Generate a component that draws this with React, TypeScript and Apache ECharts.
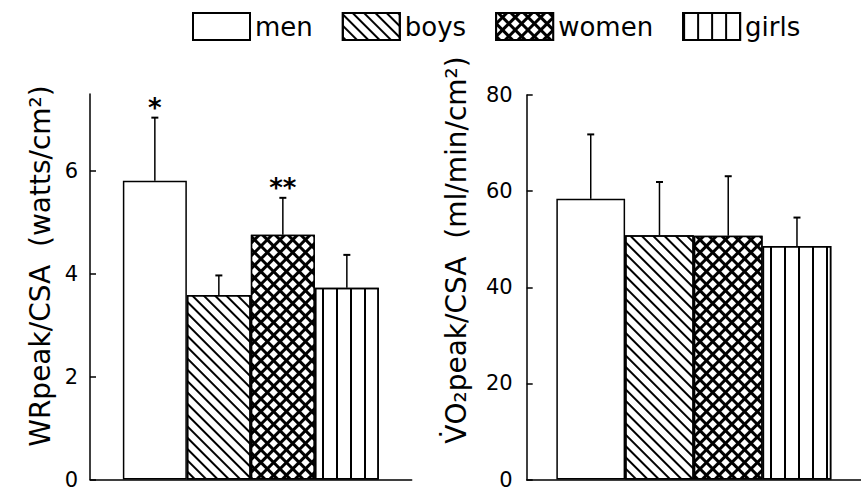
import React, { useEffect, useRef } from "react";
import * as echarts from "echarts";

const categories = ["men", "boys", "women", "girls"];
const wrMean = [5.81, 3.59, 4.76, 3.73];
const wrUpper = [7.04, 3.97, 5.48, 4.37];
const wrStars = ["*", "", "**", ""];
const vo2Mean = [58.4, 50.8, 50.7, 48.6];
const vo2Upper = [71.8, 61.9, 63.1, 54.5];
const vo2Stars = ["", "", "", ""];
const wrTicks = [0, 2, 4, 6];
const vo2Ticks = [0, 20, 40, 60, 80];
const wrTitle = "WRpeak/CSA  (watts/cm²)";
const vo2Title = "V̇O₂peak/CSA  (ml/min/cm²)";

const FONT = '"DejaVu Sans", sans-serif';
const BW_LEFT = 64;
const BW_RIGHT = 68.75;

const styles = [
  { color: "#fff" },
  {
    color: "#fff",
    decal: {
      symbol: "rect",
      color: "#000",
      dashArrayX: [1, 0],
      dashArrayY: [1.5, 6],
      rotation: Math.PI / 4,
      symbolSize: 1,
    },
  },
  {
    color: "#000",
    decal: {
      symbol: "rect",
      color: "#fff",
      dashArrayX: [5.6, 2.2],
      dashArrayY: [5.6, 2.2],
      rotation: Math.PI / 4,
      symbolSize: 1,
    },
  },
  {
    color: "#fff",
    decal: {
      symbol: "rect",
      color: "#000",
      dashArrayX: [1.3, 11.5],
      dashArrayY: [1, 0],
      rotation: 0,
      symbolSize: 1,
    },
  },
];

function errSeries(idx: number, means: number[], upper: number[], stars: string[], bw: number) {
  return {
    type: "custom",
    xAxisIndex: idx,
    yAxisIndex: idx,
    z: 5,
    clip: false,
    silent: true,
    data: means.map((m, i) => [0, m, upper[i]]),
    encode: { x: 0, y: [1, 2] },
    renderItem: (params: any, api: any) => {
      const i = params.dataIndex;
      const base = api.coord([0, api.value(1)]);
      const top = api.coord([0, api.value(2)]);
      const x = base[0] + (i - 1.5) * bw;
      const children: any[] = [
        { type: "line", shape: { x1: x, y1: base[1], x2: x, y2: top[1] }, style: { stroke: "#000", lineWidth: 1.5 } },
        { type: "line", shape: { x1: x - 3.5, y1: top[1], x2: x + 3.5, y2: top[1] }, style: { stroke: "#000", lineWidth: 2 } },
      ];
      if (stars[i]) {
        children.push({
          type: "text",
          x,
          y: top[1] - 10,
          style: { text: stars[i], font: 'bold 26px "DejaVu Sans"', fill: "#000", align: "center", verticalAlign: "middle" },
        });
      }
      return { type: "group", children };
    },
  };
}

function barSeries(idx: number, means: number[], bw: number) {
  return categories.map((name, i) => ({
    type: "bar",
    name,
    xAxisIndex: idx,
    yAxisIndex: idx,
    data: [means[i]],
    barWidth: bw,
    barGap: "0%",
    itemStyle: { ...styles[i], borderColor: "#000", borderWidth: 1.5 },
  }));
}

const axisLineStyle = { color: "#000", width: 1.5 };

function yAxis(idx: number, max: number, ticks: number[], margin: number) {
  return {
    type: "value",
    gridIndex: idx,
    min: 0,
    max,
    axisLine: { show: true, lineStyle: axisLineStyle },
    axisTick: { show: true, inside: true, length: 6, customValues: ticks, lineStyle: axisLineStyle },
    axisLabel: { customValues: ticks, fontSize: 21, fontFamily: FONT, color: "#000", margin },
    splitLine: { show: false },
  };
}

function xAxis(idx: number) {
  return {
    type: "category",
    gridIndex: idx,
    data: [""],
    axisLine: { show: true, lineStyle: axisLineStyle },
    axisTick: { show: false },
    axisLabel: { show: false },
  };
}

export default function App() {
  const ref = useRef<HTMLDivElement>(null);
  useEffect(() => {
    if (!ref.current) return;
    const chart = echarts.init(ref.current, null, { renderer: "svg" });
    chart.setOption({
      animation: false,
      backgroundColor: "#fff",
      legend: {
        data: categories,
        left: 192,
        top: 12,
        padding: 0,
        icon: "rect",
        itemWidth: 57,
        itemHeight: 27,
        itemGap: 29,
        selectedMode: false,
        textStyle: { fontSize: 26, fontFamily: FONT, color: "#000" },
      },
      grid: [
        { left: 90, top: 94, right: 449.3, bottom: 6, containLabel: false },
        { left: 526.7, top: 95, right: -7, bottom: 6.7, containLabel: false },
      ],
      xAxis: [xAxis(0), xAxis(1)],
      yAxis: [yAxis(0, 7.5, wrTicks, 12), yAxis(1, 80, vo2Ticks, 14)],
      graphic: [
        {
          type: "text",
          x: 40,
          y: 266,
          rotation: Math.PI / 2,
          style: { text: wrTitle, font: '28px "DejaVu Sans"', fill: "#000", align: "center", verticalAlign: "middle" },
        },
        {
          type: "text",
          x: 456,
          y: 250,
          rotation: Math.PI / 2,
          style: { text: vo2Title, font: '28px "DejaVu Sans"', fill: "#000", align: "center", verticalAlign: "middle" },
        },
      ],
      series: [
        ...barSeries(0, wrMean, BW_LEFT),
        ...barSeries(1, vo2Mean, BW_RIGHT),
        errSeries(0, wrMean, wrUpper, wrStars, BW_LEFT),
        errSeries(1, vo2Mean, vo2Upper, vo2Stars, BW_RIGHT),
      ],
    });
    return () => chart.dispose();
  }, []);
  return <div ref={ref} style={{ position: "fixed", left: 0, top: 0, width: 861, height: 490 }} />;
}
